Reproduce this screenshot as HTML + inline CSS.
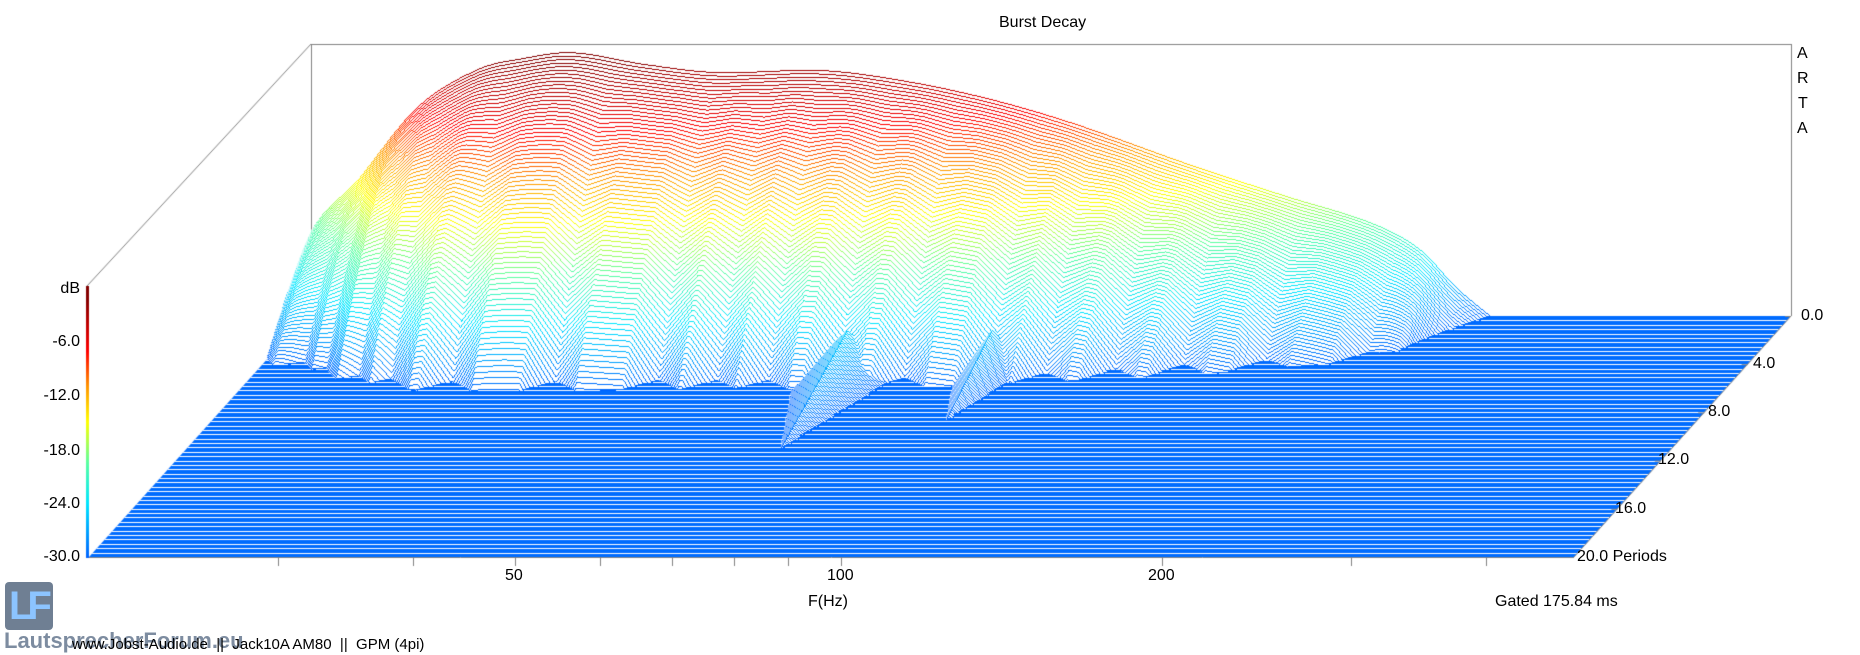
<!DOCTYPE html>
<html><head><meta charset="utf-8">
<style>
html,body{margin:0;padding:0;background:#fff;}
#wrap{position:relative;width:1860px;height:655px;overflow:hidden;background:#fff;font-family:"Liberation Sans",sans-serif;color:#000;}
canvas{position:absolute;left:0;top:0;}
.t{position:absolute;font-size:16px;white-space:nowrap;line-height:1;}
.r{text-align:right;}
</style></head><body>
<div id="wrap">
<canvas id="c" width="1860" height="655"></canvas>
<div class="t" style="left:999px;top:15px;">Burst Decay</div>
<div class="t" style="left:1797px;top:46px;">A</div>
<div class="t" style="left:1797px;top:71px;">R</div>
<div class="t" style="left:1798px;top:96px;">T</div>
<div class="t" style="left:1797px;top:121px;">A</div>
<div class="t r" style="left:30px;width:50px;top:281px;">dB</div>
<div class="t r" style="left:20px;width:60px;top:334px;">-6.0</div>
<div class="t r" style="left:20px;width:60px;top:388px;">-12.0</div>
<div class="t r" style="left:20px;width:60px;top:443px;">-18.0</div>
<div class="t r" style="left:20px;width:60px;top:496px;">-24.0</div>
<div class="t r" style="left:20px;width:60px;top:549px;">-30.0</div>
<div class="t" style="left:1801px;top:308px;">0.0</div>
<div class="t" style="left:1753px;top:356px;">4.0</div>
<div class="t" style="left:1708px;top:404px;">8.0</div>
<div class="t" style="left:1658px;top:452px;">12.0</div>
<div class="t" style="left:1615px;top:501px;">16.0</div>
<div class="t" style="left:1577px;top:549px;">20.0 Periods</div>
<div class="t" style="left:505px;top:568px;">50</div>
<div class="t" style="left:827px;top:568px;">100</div>
<div class="t" style="left:1148px;top:568px;">200</div>
<div class="t" style="left:808px;top:594px;">F(Hz)</div>
<div class="t" style="left:1495px;top:594px;">Gated 175.84 ms</div>
<div style="position:absolute;left:5px;top:582px;width:48px;height:48px;border-radius:4px;background:#6f7f93;"></div>
<div style="position:absolute;left:9px;top:586px;font:bold 40px 'Liberation Sans',sans-serif;color:#8cc4ff;letter-spacing:-6px;line-height:1;">LF</div>
<div class="t" style="left:4px;top:630px;font-size:22px;font-weight:bold;color:#7d8ca0;">LautsprecherForum.eu</div>
<div class="t" style="left:72px;top:637px;font-size:15px;">www.Jobst-Audio.de &nbsp;|| &nbsp;Jack10A AM80 &nbsp;|| &nbsp;GPM (4pi)</div>
</div>
<script>
const c=document.getElementById('c'),ctx=c.getContext('2d');
const G='#808080';
function line(x1,y1,x2,y2,col){ctx.strokeStyle=col||G;ctx.lineWidth=1;ctx.beginPath();ctx.moveTo(x1,y1);ctx.lineTo(x2,y2);ctx.stroke();}
const stops=[[0,[0,100,255]],[0.2,[0,230,255]],[0.35,[90,255,160]],[0.5,[255,255,0]],[0.63,[255,150,0]],[0.76,[255,0,0]],[0.95,[135,0,0]],[1,[130,0,0]]];
function rgb(t){t=Math.max(0,Math.min(1,t));for(let i=1;i<stops.length;i++){if(t<=stops[i][0]){const a=stops[i-1],b=stops[i];const u=(t-a[0])/(b[0]-a[0]);return 'rgb('+a[1].map((v,j)=>Math.round(v+(b[1][j]-v)*u)).join(',')+')';}}return 'rgb(130,0,0)';}
const pal=[];for(let i=0;i<=100;i++)pal.push(rgb(i/100));
const P=[[296,-30],[304,-22],[358,-14.7],[417,-6.7],[477,-2.5],[525,-1.2],[572,-0.6],[644,-1.9],[715,-2.8],[823,-2.6],[906,-3.8],[990,-5.8],[1073,-8.5],[1192,-13.2],[1288,-16.7],[1371,-19.6],[1419,-22.5],[1455,-26.7],[1490,-30]];
function base(x){if(x<=P[0][0]||x>=P[P.length-1][0])return -30;
  for(let i=1;i<P.length;i++){if(x<=P[i][0]){
    const p0=P[Math.max(0,i-2)],p1=P[i-1],p2=P[i],p3=P[Math.min(P.length-1,i+1)];
    const u=(x-p1[0])/(p2[0]-p1[0]);
    const m1=(p2[1]-p0[1])/(p2[0]-p0[0])*(p2[0]-p1[0]),m2=(p3[1]-p1[1])/(p3[0]-p1[0])*(p2[0]-p1[0]);
    const u2=u*u,u3=u2*u;
    return (2*u3-3*u2+1)*p1[1]+(u3-2*u2+u)*m1+(-2*u3+3*u2)*p2[1]+(u3-u2)*m2;}}return -30;}
const dips=[346,373,412,447,511,614,716,775,826,894,960,1043,1097,1163,1228,1306,1401,1461];
function V(x){let m=0;for(const d of dips){const v=1-Math.abs(x-d)/28;if(v>m)m=v;}return m;}
function val(x,k){
  const B=base(x);let v=-30;
  if(B>-30){const f=1-0.42*Math.min(1,-B/22);const drop=(2.4*k+0.0176*k*k)*f/8.97;
    const rip=6*Math.pow(Math.min(k,80)/73,1.5)*V(x);v=B-drop-rip;}
  const g1w=1-Math.abs(x-900)/65; if(g1w>0&&k>55&&k<128){const g=(-25-5*(k-55)/72)-6*(1-g1w);if(g>v)v=g;}
  const g2w=1-Math.abs(x-1040)/50; if(g2w>0&&k>50&&k<100){const g=(-25.5-4.5*(k-50)/50)-6*(1-g2w);if(g>v)v=g;}
  return Math.max(-30,v);
}
const N=230,DX=217,DY=241;
// floor
ctx.fillStyle='rgb(0,108,255)';
ctx.beginPath();ctx.moveTo(306,316);ctx.lineTo(1791,316);ctx.lineTo(1574,557);ctx.lineTo(89,557);ctx.closePath();ctx.fill();
ctx.save();ctx.beginPath();ctx.moveTo(306,316);ctx.lineTo(1791,316);ctx.lineTo(1574,557);ctx.lineTo(89,557);ctx.closePath();ctx.clip();
ctx.fillStyle='#fff';
for(let i=1;i<55;i++){const y=Math.round(316+i*4.38);ctx.fillRect(0,y,1860,1);}
ctx.restore();
// back frame lines
line(311,44.5,1791,44.5);line(1791.5,44,1791.5,316);line(311,44,87,286);line(311.5,44,311.5,240);
// surface
for(let k=0;k<=N;k++){
  const off=k/N,sx=-DX*off,by=316+DY*off;
  const x0=Math.ceil(290+sx),x1=Math.floor(1500+sx);
  const ys=[],vs=[];
  let any=false;
  for(let xs=x0;xs<=x1;xs++){const v=val(xs-sx,k);vs.push(v);ys.push(Math.round(by-(v+30)*8.97));if(v>-30)any=true;}
  if(!any)continue;
  ctx.fillStyle='#fff';ctx.beginPath();ctx.moveTo(x0,Math.round(by));
  for(let i=0;i<ys.length;i++)ctx.lineTo(x0+i,ys[i]);
  ctx.lineTo(x1,Math.round(by));ctx.closePath();ctx.fill();
  for(let i=0;i<ys.length;i++){
    const v=vs[i],pv=i>0?vs[i-1]:v;
    if(v<=-30&&pv<=-30)continue;
    const y=ys[i],py=i>0?ys[i-1]:y;
    let top=y,bot=y;
    if(py<y){top=py+1;}else if(py>y){bot=py-1;}
    ctx.fillStyle=pal[Math.round(Math.max(0,(Math.max(v,pv)+30)/30)*100)];
    ctx.fillRect(x0+i,top,1,bot-top+1);
  }
}
// colorbar
for(let y=286;y<=557;y++){ctx.fillStyle=rgb((557-y)/271);ctx.fillRect(86,y,3,1);}
line(89,557.5,1574,557.5);line(1791,316,1574,557);
[278,413,515,600,672,734,788,841,1162,1351,1486].forEach(x=>line(x+0.5,557,x+0.5,566));
for(let i=0;i<=5;i++){const x=1791-217*i/5,y=316+241*i/5;line(x,y+0.5,x-6,y+0.5);}
</script>
</body></html>
